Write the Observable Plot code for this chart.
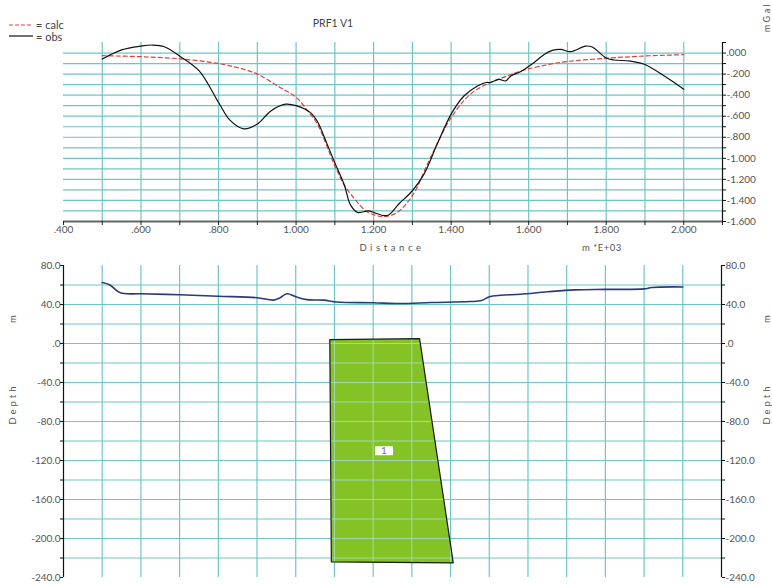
<!DOCTYPE html>
<html><head><meta charset="utf-8">
<script src="https://cdn.jsdelivr.net/npm/d3@7"></script>
<script src="https://cdn.jsdelivr.net/npm/@observablehq/plot@0.6"></script>
<style>
body{margin:0;background:#fff;}
#wrap{position:relative;width:772px;height:585px;overflow:hidden;font-family:Lato,"DejaVu Sans",sans-serif;}
#wrap svg{display:block;}
#overlay{position:absolute;left:0;top:0;pointer-events:none;}
</style></head><body><div id="wrap"></div>
<script>
// ---------- data ----------
const obsDist = [0.50,0.55,0.60,0.63,0.66,0.70,0.75,0.80,0.83,0.865,0.90,0.935,0.973,1.00,1.037,1.055,1.08,1.102,1.125,1.14,1.158,1.188,1.205,1.227,1.24,1.265,1.30,1.33,1.364,1.40,1.433,1.468,1.49,1.502,1.523,1.541,1.554,1.58,1.614,1.64,1.661,1.683,1.708,1.747,1.764,1.799,1.82,1.863,1.898,1.95,2.00];
const obsVal  = [-0.057,0.03,0.066,0.076,0.06,-0.03,-0.17,-0.47,-0.64,-0.72,-0.675,-0.55,-0.486,-0.50,-0.566,-0.65,-0.865,-1.06,-1.26,-1.44,-1.513,-1.50,-1.52,-1.545,-1.535,-1.434,-1.308,-1.15,-0.865,-0.58,-0.408,-0.313,-0.28,-0.28,-0.25,-0.265,-0.218,-0.175,-0.09,-0.013,0.025,0.035,0.013,0.066,0.057,-0.045,-0.066,-0.076,-0.107,-0.218,-0.344];
const calcDist = [0.50,0.60,0.70,0.80,0.85,0.90,0.96,1.00,1.03,1.055,1.098,1.123,1.141,1.166,1.18,1.20,1.227,1.261,1.30,1.347,1.40,1.45,1.50,1.545,1.58,1.65,1.70,1.80,1.90,2.00];
const calcVal  = [-0.025,-0.035,-0.055,-0.10,-0.14,-0.20,-0.33,-0.42,-0.55,-0.675,-1.055,-1.245,-1.34,-1.45,-1.50,-1.535,-1.555,-1.513,-1.355,-0.99,-0.613,-0.39,-0.281,-0.218,-0.17,-0.11,-0.08,-0.05,-0.028,-0.016];
const topoDist = [0.50,0.52,0.547,0.60,0.70,0.80,0.90,0.943,0.96,0.977,1.00,1.029,1.072,1.106,1.20,1.27,1.35,1.45,1.48,1.50,1.53,1.58,1.65,1.72,1.80,1.90,1.92,2.00];
const topoElev = [62.5,60,52,51,50,48.5,47,44.5,47,51,48,45,44.5,42.5,41.8,41,42,43,44,48,49.5,50.5,53,55,55.5,56,57.5,58];
const bodyDist  = [1.088,1.32,1.407,1.092,1.088];
const bodyDepth = [4,5,-225,-224,4];
const bodyLabel = [{d:1.228, z:-110, name:"1"}];
const xGrid = [0.5,0.6,0.7,0.8,0.9,1.0,1.1,1.2,1.3,1.4,1.5,1.6,1.7,1.8,1.9,2.0];
const xTickMinor = [0.4,0.5,0.6,0.7,0.8,0.9,1.0,1.1,1.2,1.3,1.4,1.5,1.6,1.7,1.8,1.9,2.0,2.1];
const xTickLabels = [0.4,0.6,0.8,1.0,1.2,1.4,1.6,1.8,2.0];
const gGrid = [0,-0.1,-0.2,-0.3,-0.4,-0.5,-0.6,-0.7,-0.8,-0.9,-1.0,-1.1,-1.2,-1.3,-1.4,-1.5];
const gTickMinor = [0.1,0,-0.1,-0.2,-0.3,-0.4,-0.5,-0.6,-0.7,-0.8,-0.9,-1.0,-1.1,-1.2,-1.3,-1.4,-1.5,-1.6];
const gTickLabels = [0,-0.2,-0.4,-0.6,-0.8,-1.0,-1.2,-1.4,-1.6];
const zGrid = [60,40,20,0,-20,-40,-60,-80,-100,-120,-140,-160,-180,-200,-220];
const zTickMinor = [80,60,40,20,0,-20,-40,-60,-80,-100,-120,-140,-160,-180,-200,-220,-240];
const zTickLabels = [80,40,0,-40,-80,-120,-160,-200,-240];

// ---------- helpers ----------
const fmt3 = v => { let s = Math.abs(v).toFixed(3); if (s[0]==="0") s = s.slice(1); return (v < -1e-9 ? "-" : "") + s; };
const fmt1 = v => { let s = Math.abs(v).toFixed(1); if (s[0]==="0") s = s.slice(1); return (v < -1e-9 ? "-" : "") + s; };
const gridColor = "#6fc5c5";
const font = "Lato, 'DejaVu Sans', sans-serif";
const obs = obsDist.map((d,i)=>({d, g:obsVal[i]}));
const calc = calcDist.map((d,i)=>({d, g:calcVal[i]}));
const topo = topoDist.map((d,i)=>({d, z:topoElev[i]}));
const body = bodyDist.map((d,i)=>({d, z:bodyDepth[i]}));
const boxSymbol = {draw(ctx){ ctx.rect(-9,-4.5,18,9); }};

// grid segments seen through the body (clipped to the body polygon)
const edge = (i, j) => ({x0: bodyDist[i], z0: bodyDepth[i], x1: bodyDist[j], z1: bodyDepth[j]});
const eL = edge(0,3), eR = edge(1,2), eT = edge(0,1), eB = edge(3,2);
const xAtZ = (e, z) => e.x0 + (e.x1 - e.x0) * (z - e.z0) / (e.z1 - e.z0);
const zAtX = (e, x) => e.z0 + (e.z1 - e.z0) * (x - e.x0) / (e.x1 - e.x0);
const innerGrid = [];
zGrid.forEach(z => {
  if (z < Math.min(eL.z0, eR.z0) && z > Math.max(eL.z1, eR.z1)) {
    innerGrid.push({x1: xAtZ(eL, z), y1: z, x2: xAtZ(eR, z), y2: z});
  }
});
xGrid.forEach(x => {
  if (x > Math.max(eL.x0, eL.x1) && x < eR.x1) {
    const zTop = x <= eR.x0 ? zAtX(eT, x) : zAtX(eR, x);
    const zBot = zAtX(eB, x);
    innerGrid.push({x1: x, y1: zTop, x2: x, y2: zBot});
  }
});

const wrap = document.getElementById("wrap");

const gravPlot = Plot.plot({
  width: 772, height: 260,
  marginLeft: 63, marginRight: 50, marginTop: 42, marginBottom: 39,
  style: {fontFamily: font, fontSize: "10px", color: "#555", background: "transparent"},
  x: {domain: [0.4, 2.1]},
  y: {domain: [-1.6, 0.1]},
  marks: [
    Plot.ruleY(gGrid, {stroke: gridColor, strokeWidth: 1.2}),
    Plot.ruleX(xGrid, {stroke: gridColor, strokeWidth: 1.2}),
    Plot.ruleY([-1.6], {stroke: "#666", strokeWidth: 2}),
    Plot.ruleX([2.1], {stroke: "#111", strokeWidth: 1.2}),
    Plot.axisX({ticks: xTickMinor, tickSize: 4, tickFormat: () => "", stroke: "#222", label: null}),
    Plot.axisX({ticks: xTickLabels, tickSize: 0, tickPadding: 4, tickFormat: fmt3, fill: "#555", label: null}),
    Plot.axisY({anchor: "right", ticks: gTickMinor, tickSize: 3, tickFormat: () => "", stroke: "#111", label: null}),
    Plot.axisY({anchor: "right", ticks: gTickLabels, tickSize: 0, tickPadding: 4, tickFormat: fmt3, fill: "#555", label: null}),
    Plot.line(calc, {x: "d", y: "g", stroke: "#e0403a", strokeWidth: 1.2, strokeDasharray: "4,3", curve: "catmull-rom"}),
    Plot.line(obs, {x: "d", y: "g", stroke: "#111", strokeWidth: 1.2, curve: "catmull-rom"})
  ]
});
wrap.appendChild(gravPlot);

const depthPlot = Plot.plot({
  width: 772, height: 325,
  marginLeft: 63, marginRight: 51, marginTop: 5, marginBottom: 8,
  style: {fontFamily: font, fontSize: "10px", color: "#555", background: "transparent", overflow: "visible"},
  x: {domain: [0.4, 2.1], axis: null},
  y: {domain: [-240, 80]},
  marks: [
    Plot.ruleY(zGrid, {stroke: gridColor, strokeWidth: 1.2}),
    Plot.ruleX(xGrid, {stroke: gridColor, strokeWidth: 1.2}),
    Plot.ruleX([0.4], {stroke: "#111", strokeWidth: 1.2}),
    Plot.ruleX([2.1], {stroke: "#111", strokeWidth: 1.2}),
    Plot.axisY({anchor: "left", ticks: zTickMinor, tickSize: 3, tickFormat: () => "", stroke: "#111", label: null}),
    Plot.axisY({anchor: "left", ticks: zTickLabels, tickSize: 0, tickPadding: 3, tickFormat: fmt1, fill: "#555", label: null}),
    Plot.axisY({anchor: "right", ticks: zTickMinor, tickSize: 3, tickFormat: () => "", stroke: "#111", label: null}),
    Plot.axisY({anchor: "right", ticks: zTickLabels, tickSize: 0, tickPadding: 4, tickFormat: fmt1, fill: "#555", label: null}),
    Plot.line(body, {x: "d", y: "z", fill: "#84c225", stroke: "none"}),
    Plot.link(innerGrid, {x1: "x1", y1: "y1", x2: "x2", y2: "y2", stroke: "#a6dccd", strokeWidth: 1, strokeOpacity: 0.85}),
    Plot.line(body, {x: "d", y: "z", fill: "none", stroke: "#1a1a1a", strokeWidth: 1.2}),
    Plot.dot(bodyLabel, {x: "d", y: "z", symbol: boxSymbol, fill: "white", stroke: "none"}),
    Plot.text(bodyLabel, {x: "d", y: "z", text: "name", fill: "#777", fontSize: 10}),
    Plot.line(topo, {x: "d", y: "z", stroke: "#2b3a78", strokeWidth: 1.6, curve: "catmull-rom"})
  ]
});
wrap.appendChild(depthPlot);

// ---------- overlay text ----------
const ov = d3.select(wrap).append("svg").attr("id","overlay").attr("width",772).attr("height",585)
  .style("font-family", font);
ov.append("line").attr("x1",9).attr("x2",33).attr("y1",25).attr("y2",25).attr("stroke","#e0403a").attr("stroke-width",1.2).attr("stroke-dasharray","4,2");
ov.append("line").attr("x1",9).attr("x2",33).attr("y1",36).attr("y2",36).attr("stroke","#111").attr("stroke-width",1.2);
ov.append("text").attr("x",36).attr("y",29).attr("font-size",11).attr("fill","#444").text("= calc");
ov.append("text").attr("x",36).attr("y",41).attr("font-size",11).attr("fill","#444").text("= obs");
ov.append("text").attr("x",333).attr("y",27).attr("font-size",10.5).attr("text-anchor","middle").attr("fill","#444").text("PRF1 V1");
ov.append("text").attr("transform","translate(770,17) rotate(-90)").attr("font-size",9).attr("text-anchor","middle").attr("letter-spacing","2.5px").attr("fill","#555").text("mGal");
ov.append("text").attr("x",392).attr("y",251).attr("font-size",9.5).attr("text-anchor","middle").attr("letter-spacing","3.6px").attr("fill","#555").text("Distance");
ov.append("text").attr("x",582).attr("y",251).attr("font-size",9.5).attr("letter-spacing","0.5px").attr("fill","#555").text("m *E+03");
[[16,319,"m"],[16,404,"Depth"],[770,319,"m"],[770,404,"Depth"]].forEach(([x,y,t]) => {
  ov.append("text").attr("transform",`translate(${x},${y}) rotate(-90)`).attr("font-size",9.5).attr("text-anchor","middle").attr("letter-spacing", t==="Depth" ? "3px" : "0").attr("fill","#555").text(t);
});
</script></body></html>
